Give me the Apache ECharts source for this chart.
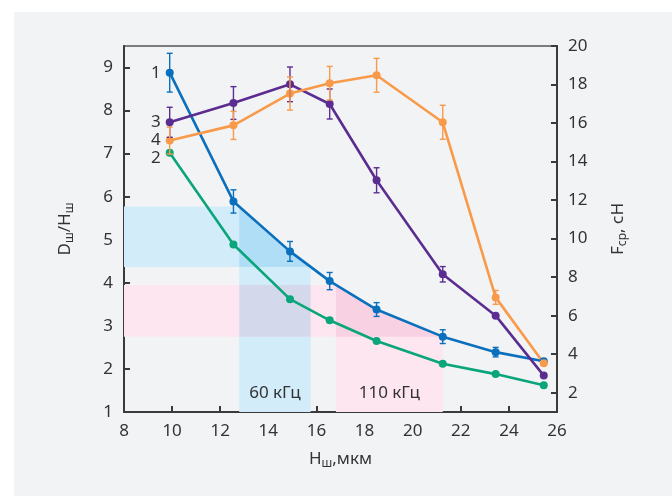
<!DOCTYPE html>
<html><head><meta charset="utf-8">
<script src="https://cdn.jsdelivr.net/npm/echarts@6/dist/echarts.min.js"></script>
<style>
html,body{margin:0;padding:0;background:#fff;}
#panel{position:absolute;left:14px;top:12px;width:658px;height:484px;background:#f2f3f5;}
#chart{position:absolute;left:0;top:0;width:672px;height:496px;}
</style></head><body>
<div id="panel"></div><div id="chart"></div>
<script>
// ---- data ----
const xValues = [9.9, 12.55, 14.9, 16.55, 18.5, 21.25, 23.45, 25.45];
const series1 = [8.88, 5.89, 4.73, 4.04, 3.38, 2.75, 2.39, 2.18];      // D/H, curve 1
const series1Err = [0.45, 0.27, 0.23, 0.2, 0.16, 0.16, 0.11, 0];
const series2 = [7.02, 4.89, 3.62, 3.13, 2.65, 2.12, 1.88, 1.62];      // D/H, curve 2
const series3 = [16.04, 17.04, 18.01, 16.99, 13.03, 8.15, 6.0, 2.89];  // F, curve 3
const series3Err = [0.78, 0.85, 0.9, 0.78, 0.65, 0.4, 0, 0];
const series4 = [15.09, 15.88, 17.53, 18.07, 18.48, 16.04, 6.95, 3.53]; // F, curve 4
const series4Err = [0.7, 0.73, 0.86, 0.87, 0.88, 0.88, 0.36, 0];
const seriesNames = ['1', '2', '3', '4'];
const bandRanges = [[12.79, 15.76], [16.81, 21.25]];
const bandNames = ['60 кГц', '110 кГц'];
const xTicks = [8, 10, 12, 14, 16, 18, 20, 22, 24, 26];
const leftTicks = [1, 2, 3, 4, 5, 6, 7, 8, 9];
const rightTicks = [2, 4, 6, 8, 10, 12, 14, 16, 18, 20];

// ---- helpers ----
const XMIN = 8, XMAX = 26, YMIN = 1, YMAX = 9.5, RMIN = 1, RMAX = 20;
function curveAt(x) {
  for (let i = 0; i < xValues.length - 1; i++) {
    if (x >= xValues[i] && x <= xValues[i + 1]) {
      const t = (x - xValues[i]) / (xValues[i + 1] - xValues[i]);
      return series1[i] + t * (series1[i + 1] - series1[i]);
    }
  }
  return series1[series1.length - 1];
}
function curvePts(x0, x1) {
  const p = [[x0, curveAt(x0)]];
  xValues.forEach((xv, i) => { if (xv > x0 && xv < x1) p.push([xv, series1[i]]); });
  p.push([x1, curveAt(x1)]);
  return p;
}
const COL = {
  blue: '#0a70bd', green: '#0aa57a', purple: '#5c2d91', orange: '#f89a4a',
  bLight: '#d3ecfa', bDark: '#b0def6', pLight: '#fde6ef', pDark: '#f8d2e3', mix: '#d3d8eb'
};
const FONT = 'Noto Sans';

function poly(api, pts, fill) {
  return { type: 'polygon', shape: { points: pts.map(p => api.coord(p)) }, style: { fill: fill }, silent: true };
}

function bandRender(params, api) {
  const i = params.dataIndex;
  const x0 = bandRanges[i][0], x1 = bandRanges[i][1];
  const cp = curvePts(x0, x1);
  const c0 = cp[0][1], c1 = cp[cp.length - 1][1];
  const light = i === 0 ? COL.bLight : COL.pLight;
  const dark = i === 0 ? COL.bDark : COL.pDark;
  const children = [
    poly(api, [[XMIN, c0]].concat(cp, [[XMIN, c1]]), light),
    poly(api, [[x0, YMIN]].concat(cp, [[x1, YMIN]]), light),
    poly(api, [[x0, c1]].concat(cp), dark)
  ];
  if (i === 1) {
    const b0 = bandRanges[0][0], b1 = bandRanges[0][1];
    children.push(poly(api, [[b0, c1], [b0, c0], [b1, c0], [b1, c1]], COL.mix));
  }
  for (let k = 0; k <= i; k++) {}
  const lp = api.coord([(x0 + x1) / 2, 1.44]);
  children.push({
    type: 'text', x: lp[0], y: lp[1], silent: true,
    style: { text: bandNames[i], fill: '#333', fontSize: 17, fontFamily: FONT, textAlign: 'center', textVerticalAlign: 'middle' }
  });
  return { type: 'group', children: children };
}

function errSeries(vals, errs, color, yAxisIndex) {
  const data = [];
  xValues.forEach((x, i) => { if (errs[i] > 0) data.push([x, vals[i], errs[i]]); });
  return {
    type: 'custom', yAxisIndex: yAxisIndex, z: 4, silent: true,
    data: data,
    renderItem: function (params, api) {
      const x = api.value(0), y = api.value(1), e = api.value(2);
      const t = api.coord([x, y + e]), b = api.coord([x, y - e]);
      const hw = 3, st = { stroke: color, lineWidth: 1.4 };
      return {
        type: 'group', children: [
          { type: 'line', shape: { x1: t[0], y1: t[1], x2: b[0], y2: b[1] }, style: st },
          { type: 'line', shape: { x1: t[0] - hw, y1: t[1], x2: t[0] + hw, y2: t[1] }, style: st },
          { type: 'line', shape: { x1: b[0] - hw, y1: b[1], x2: b[0] + hw, y2: b[1] }, style: st }
        ]
      };
    }
  };
}

function lineSeries(name, vals, color, yAxisIndex, labelOffset) {
  const data = xValues.map((x, i) => {
    if (i === 0) {
      return {
        value: [x, vals[i]],
        label: { show: true, position: 'left', distance: 5, formatter: name, fontSize: 17, color: '#333', fontFamily: FONT, offset: labelOffset }
      };
    }
    return [x, vals[i]];
  });
  return {
    type: 'line', name: name, yAxisIndex: yAxisIndex, z: 3, data: data,
    symbol: 'circle', symbolSize: 8, showSymbol: true,
    lineStyle: { width: 2.6, color: color }, itemStyle: { color: color },
    emphasis: { disabled: true }
  };
}

const axisLineStyle = { color: '#3a3a3a', width: 2 };
const labelStyle = { fontSize: 17, color: '#333', fontFamily: FONT };
const nameRich = {
  a: { fontSize: 17, color: '#333', fontFamily: FONT, lineHeight: 22, verticalAlign: 'middle' },
  s: { fontSize: 12, color: '#333', fontFamily: FONT, lineHeight: 12, verticalAlign: 'bottom' }
};

const chart = echarts.init(document.getElementById('chart'), null, { renderer: 'canvas' });
chart.setOption({
  animation: false,
  backgroundColor: 'transparent',
  textStyle: { fontFamily: FONT },
  grid: { left: 124, right: 115, top: 46, bottom: 84, show: true, borderColor: '#555', borderWidth: 1.5, backgroundColor: 'transparent' },
  xAxis: {
    type: 'value', min: XMIN, max: XMAX, interval: 2,
    name: '{a|H}{s|ш}{a|,мкм}', nameLocation: 'middle', nameGap: 36,
    nameTextStyle: { rich: nameRich },
    axisLine: { show: true, onZero: false, lineStyle: axisLineStyle },
    axisTick: { show: true, inside: true, length: 6, lineStyle: { color: '#3a3a3a', width: 2 }, customValues: xTicks },
    axisLabel: Object.assign({ margin: 11, customValues: xTicks }, labelStyle),
    splitLine: { show: false }
  },
  yAxis: [{
    type: 'value', min: YMIN, max: YMAX, position: 'left',
    name: '{a|D}{s|ш}{a|/H}{s|ш}', nameLocation: 'middle', nameGap: 48, nameRotate: 90,
    nameTextStyle: { rich: nameRich },
    axisLine: { show: true, onZero: false, lineStyle: axisLineStyle },
    axisTick: { show: true, inside: true, length: 6, lineStyle: { color: '#3a3a3a', width: 2 }, customValues: leftTicks },
    axisLabel: Object.assign({ margin: 11, customValues: leftTicks }, labelStyle),
    splitLine: { show: false }
  }, {
    type: 'value', min: RMIN, max: RMAX, position: 'right',
    name: '{a|F}{s|ср}{a|, сН}', nameLocation: 'middle', nameGap: 50, nameRotate: 90,
    nameTextStyle: { rich: nameRich },
    axisLine: { show: true, onZero: false, lineStyle: axisLineStyle },
    axisTick: { show: true, inside: true, length: 6, lineStyle: { color: '#3a3a3a', width: 2 }, customValues: rightTicks },
    axisLabel: Object.assign({ margin: 11, customValues: rightTicks }, labelStyle),
    splitLine: { show: false }
  }],
  series: [
    { type: 'custom', yAxisIndex: 0, z: 1, silent: true, clip: true,
      data: bandRanges.map((b, i) => [b[0], b[1], i]), renderItem: bandRender },
    lineSeries(seriesNames[0], series1, COL.blue, 0, [0, 0]),
    lineSeries(seriesNames[1], series2, COL.green, 0, [0, 5]),
    lineSeries(seriesNames[2], series3, COL.purple, 1, [0, 0]),
    lineSeries(seriesNames[3], series4, COL.orange, 1, [0, 0]),
    errSeries(series1, series1Err, COL.blue, 0),
    errSeries(series3, series3Err, COL.purple, 1),
    errSeries(series4, series4Err, COL.orange, 1)
  ]
});
</script>
</body></html>
